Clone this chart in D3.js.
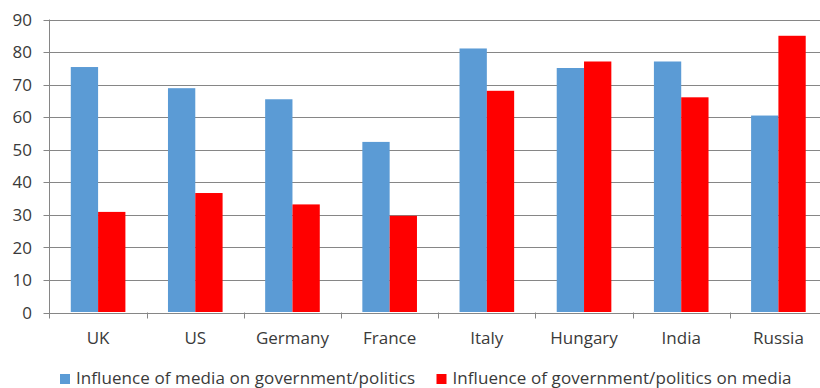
<!DOCTYPE html>
<html>
<head>
<meta charset="utf-8">
<script src="https://cdn.jsdelivr.net/npm/d3@7"></script>
<style>
  html, body { margin: 0; padding: 0; background: #fff; }
  svg { display: block; }
  text { font-family: "Open Sans", "Noto Sans", sans-serif; fill: #3a3a3a; }
</style>
</head>
<body>
<svg id="chart" width="820" height="388"></svg>
<script>
// Country categories and the two survey series
const categories = ["UK", "US", "Germany", "France", "Italy", "Hungary", "India", "Russia"];
const mediaOnPolitics = [75.4, 68.9, 65.5, 52.4, 81.1, 75.1, 77.1, 60.5];
const politicsOnMedia = [30.9, 36.7, 33.2, 29.7, 68.1, 77.1, 66.1, 85.0];
const seriesNames = ["Influence of media on government/politics", "Influence of government/politics on media"];
const yTicks = [0, 10, 20, 30, 40, 50, 60, 70, 80, 90];
const colors = ["#5B9BD5", "#FF0000"];

const svg = d3.select("#chart");
const plotLeft = 49.5, plotRight = 827, plotTop = 19.5, plotBottom = 312.5;
const gridColor = "#868686";
const fontSize = 17;

const x = d3.scaleBand().domain(categories).range([plotLeft, plotRight]).padding(0);
const y = d3.scaleLinear().domain([0, 90]).range([plotBottom, plotTop]);

// horizontal gridlines
svg.append("g")
  .selectAll("line")
  .data(yTicks)
  .join("line")
  .attr("x1", plotLeft - 6).attr("x2", 820)
  .attr("y1", d => Math.round(y(d)) + 0.5).attr("y2", d => Math.round(y(d)) + 0.5)
  .attr("stroke", gridColor).attr("stroke-width", 1);

// y-axis labels
svg.append("g")
  .selectAll("text")
  .data(yTicks)
  .join("text")
  .attr("x", 32).attr("y", d => y(d))
  .attr("dy", "0.36em")
  .attr("text-anchor", "end")
  .attr("font-size", fontSize)
  .text(d => d);

// vertical axis line
svg.append("line")
  .attr("x1", plotLeft).attr("x2", plotLeft)
  .attr("y1", plotTop).attr("y2", plotBottom + 6)
  .attr("stroke", gridColor);

// category boundary ticks
svg.append("g")
  .selectAll("line")
  .data(categories.slice(1))
  .join("line")
  .attr("x1", d => Math.round(x(d)) + 0.5).attr("x2", d => Math.round(x(d)) + 0.5)
  .attr("y1", plotBottom).attr("y2", plotBottom + 6)
  .attr("stroke", gridColor);

// bars
const bw = x.bandwidth();
const barW = bw * 0.281;
const offset = (bw - 2 * barW) / 2;
const series = [mediaOnPolitics, politicsOnMedia];

series.forEach((vals, si) => {
  svg.append("g")
    .selectAll("rect")
    .data(categories.map((c, i) => ({ c, v: vals[i] })))
    .join("rect")
    .attr("x", d => x(d.c) + offset + si * barW)
    .attr("y", d => y(d.v))
    .attr("width", barW)
    .attr("height", d => plotBottom - 0.5 - y(d.v))
    .attr("fill", colors[si]);
});

// category labels
svg.append("g")
  .selectAll("text")
  .data(categories)
  .join("text")
  .attr("x", d => x(d) + bw / 2)
  .attr("y", 344)
  .attr("text-anchor", "middle")
  .attr("font-size", fontSize)
  .text(d => d);

// legend
const legendX = [60, 436.5];
seriesNames.forEach((name, i) => {
  const g = svg.append("g").attr("transform", `translate(${legendX[i]},0)`);
  g.append("rect").attr("x", 0).attr("y", 374).attr("width", 10).attr("height", 10).attr("fill", colors[i]);
  g.append("text").attr("x", 16).attr("y", 384).attr("font-size", fontSize)
    .attr("textLength", 339).attr("lengthAdjust", "spacing")
    .text(name);
});
</script>
</body>
</html>
